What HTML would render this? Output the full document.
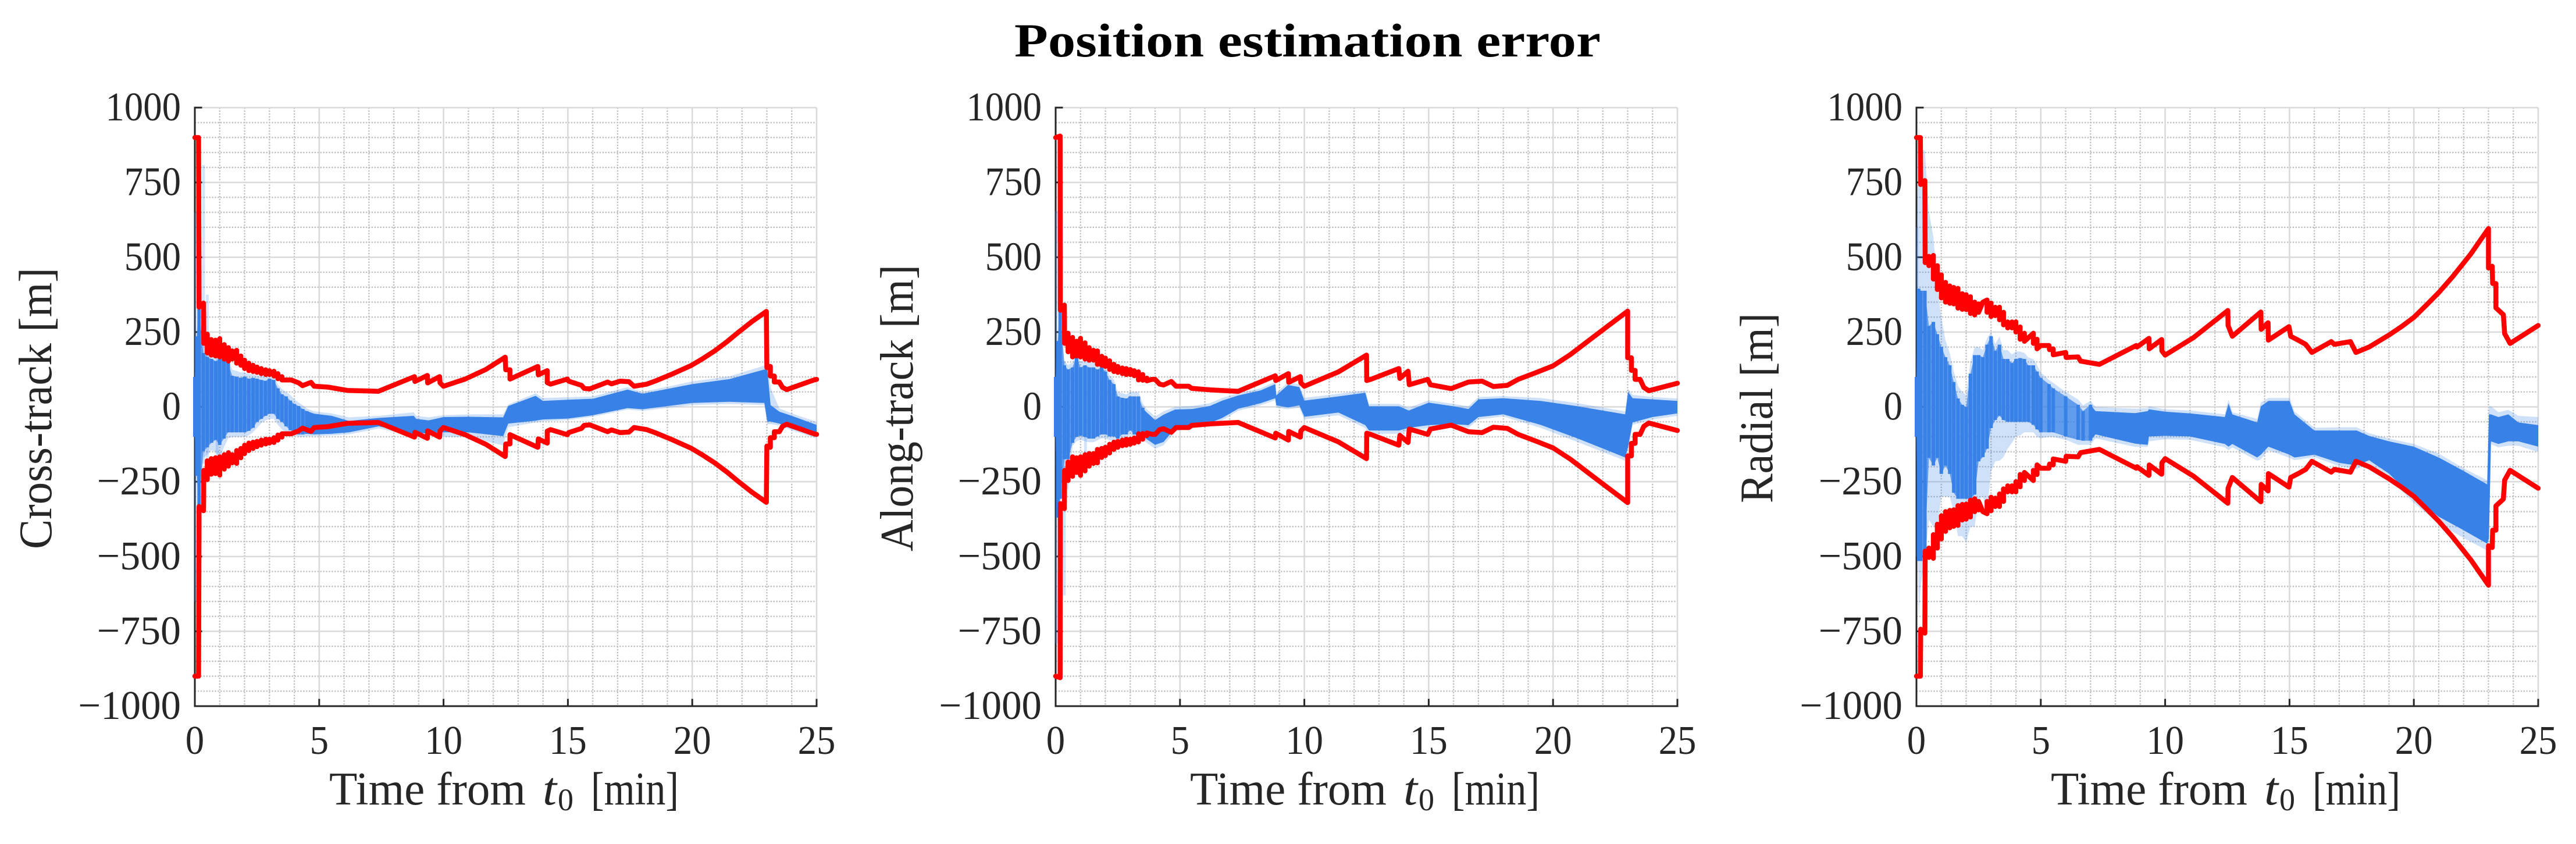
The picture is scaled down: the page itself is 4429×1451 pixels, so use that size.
<!DOCTYPE html>
<html lang="en">
<head>
<meta charset="utf-8">
<title>Position estimation error</title>
<style>
html,body{margin:0;padding:0;background:#fff;}
svg{display:block;}
text{font-family:"Liberation Serif",serif;fill:#262626;}
</style>
</head>
<body>
<svg id="chart" xmlns="http://www.w3.org/2000/svg" width="4429" height="1451" viewBox="0 0 4429 1451">
<rect x="0" y="0" width="4429" height="1451" fill="#ffffff"/>
<text x="1744" y="97" font-size="82" font-weight="bold" style="fill:#000" textLength="1008" lengthAdjust="spacingAndGlyphs">Position estimation error</text>
</svg>
<script>
// ---- shared tick values ----
const xTickLabels = [0,5,10,15,20,25];
const yTickLabels = [1000,750,500,250,0,-250,-500,-750,-1000];

// ---- cross-track: red sigma bound ----
const crossSigmaTime = [
0,.15,.17,.35,.36,.5,.5,.66,.66,.83,
.83,1,1,1.18,1.18,1.35,1.35,1.5,1.5,1.68,
1.68,1.85,1.85,2,2,2.17,2.17,2.34,2.34,2.5,
2.5,2.67,2.67,2.85,2.85,3,3,3.18,3.18,3.34,
3.34,3.5,3.5,3.87,4.18,4.33,4.67,4.8,5.35,6.13,
7.38,8.83,8.85,9.35,9.36,9.84,9.86,10,10.87,11.7,
12.48,12.5,12.67,12.67,13.79,13.81,14.17,14.17,14.3,14.98,
15.03,15.55,15.65,15.88,16.6,16.75,17.1,17.46,17.66,18.17,
18.5,19.2,19.95,20.4,20.9,21.4,21.85,22.4,22.98,23,
23.14,23.14,23.3,23.3,23.5,23.63,23.8,24.9,25];
const crossSigmaValue = [
900,900,333,347,212,243,180,225,173,223,
170,228,167,208,160,198,153,187,160,189,
146,170,139,156,128,146,121,139,118,133,
115,128,111,124,108,121,108,119,103,111,
94,101,90,90,80,71,82,69,66,55,
52,101,85,105,80,101,80,69,93,125,
166,124,124,93,135,107,121,81,76,93,
86,72,62,60,83,77,86,84,69,76,
86,110,138,160,187,218,249,285,319,131,
135,103,103,83,83,65,58,90,92];

// ---- cross-track: monte-carlo run envelopes ----
const crossBandTime = [
0,.08,.17,.34,.5,.67,.84,1,1.17,1.34,
1.5,1.67,1.84,2,2.17,2.34,2.5,2.67,2.84,3,
3.17,3.34,3.5,3.67,3.84,4,4.17,4.34,4.5,4.8,
5.5,6.2,7.4,8.8,8.9,9.4,10,11,12.4,12.6,
13.7,14,15,16,17.4,18,20,21.5,22.9,23.02,
23.15,23.5,24,25];
const crossCoreHigh = [
100,236,326,180,167,160,153,160,160,146,
104,101,97,101,94,97,94,90,87,94,
90,62,42,35,21,10,3,-7,-14,-23,
-30,-47,-37,-30,-40,-45,-34,-33,-35,3,
37,20,24,27,58,44,76,93,125,124,
6,-16,-30,-60];
const crossCoreLow = [
-100,-230,-328,-148,-135,-120,-110,-127,-106,-85,
-85,-85,-85,-85,-80,-70,-50,-40,-30,-23,
-23,-40,-50,-65,-78,-85,-92,-92,-90,-92,
-90,-85,-65,-92,-85,-90,-85,-85,-98,-56,
-46,-42,-39,-28,-4,-8,13,17,13,-49,
-49,-56,-73,-100];
const crossPaleHigh = [
130,260,340,200,190,175,170,175,175,165,
125,120,115,115,110,110,105,105,100,105,
105,75,60,50,40,25,15,5,-5,-15,
-22,-35,-30,-18,-30,-35,-28,-25,-25,8,
45,30,32,35,66,50,85,102,138,135,
65,-5,-22,-50];
const crossPaleLow = [
-130,-250,-340,-170,-160,-145,-150,-175,-135,-105,
-100,-100,-100,-100,-95,-85,-70,-55,-45,-40,
-40,-60,-75,-85,-90,-95,-100,-100,-98,-98,
-95,-92,-72,-98,-92,-98,-100,-100,-129,-68,
-52,-48,-44,-33,-9,-13,6,10,6,-58,
-58,-62,-78,-105];
const crossSpikeTime = [.02,.35,.5,.9];
const crossSpikeHigh = [650,808,375,170];
const crossSpikeLow = [-650,-190,-170,-175];

// ---- along-track: red sigma bound ----
const alongSigmaTime = [
0,.18,.19,.35,.36,.5,.5,.68,.68,.84,
.84,1,1,1.18,1.18,1.35,1.35,1.52,1.52,1.68,
1.68,1.85,1.85,2,2,2.17,2.17,2.34,2.34,2.5,
2.5,2.68,2.68,2.84,2.84,3,3,3.16,3.16,3.33,
3.33,3.5,3.5,3.67,3.67,3.87,4,4.18,4.34,4.65,
4.84,5.35,5.47,6.2,7.34,8.83,8.85,9.36,9.37,9.84,
9.86,10,11.37,12.5,12.51,12.67,13.8,13.84,14.17,14.22,
14.96,15.07,15.9,16.6,17.15,17.6,18.16,18.6,19.3,20,
20.7,21.3,22.2,23,23,23.15,23.15,23.3,23.3,23.5,
23.65,23.85,25];
const alongSigmaValue = [
900,905,323,340,212,246,184,232,167,219,
170,229,167,214,160,198,156,189,156,187,
142,169,139,163,135,154,125,142,118,135,
115,130,111,128,108,125,108,121,104,117,
90,108,89,96,87,92,92,76,73,85,
69,69,62,57,52,104,88,111,82,101,
80,69,117,173,88,92,128,95,119,74,
92,74,61,83,86,68,72,92,114,137,
175,213,270,320,164,164,122,122,92,92,
65,54,79];

// ---- along-track: monte-carlo run envelopes ----
const alongBandTime = [
0,.09,.18,.35,.5,.68,.84,1,1.18,1.35,
1.52,1.68,1.85,2,2.17,2.34,2.5,2.68,2.84,3,
3.16,3.33,3.5,3.63,4,4.34,4.8,5.5,6.2,6.7,
7.34,8.24,8.83,8.87,9.34,9.8,10,11.37,12.45,12.6,
13.8,14.2,15,16,16.6,17,18,19.5,21,22.9,
23.02,23.2,24,25];
const alongCoreHigh = [
100,220,323,139,125,132,170,132,139,132,
132,125,132,118,90,76,35,30,28,35,
35,35,-3,-16,-44,-26,-9,-7,3,21,
38,55,76,38,73,66,21,35,47,2,
2,-12,14,2,-7,25,29,20,2,-25,
50,29,25,20];
const alongCoreLow = [
-100,-370,-307,-175,-175,-120,-100,-96,-100,-106,
-106,-99,-92,-92,-99,-99,-106,-92,-92,-78,
-92,-92,-92,-106,-127,-117,-71,-60,-54,-37,
-6,12,29,5,-2,5,-33,-19,-61,-79,
-79,-70,-61,-58,-61,-34,-25,-60,-106,-169,
-133,-52,-34,-22];
const alongPaleHigh = [
130,250,340,152,140,148,185,150,155,150,
148,142,148,135,105,92,50,45,42,50,
50,50,12,-5,-32,-15,0,3,12,30,
46,62,84,46,82,75,30,44,55,10,
10,-3,22,10,2,33,36,30,12,-15,
60,40,33,28];
const alongPaleLow = [
-130,-400,-320,-250,-280,-130,-115,-110,-115,-118,
-118,-112,-105,-105,-112,-112,-118,-105,-105,-92,
-105,-105,-105,-118,-140,-128,-82,-70,-62,-45,
-13,5,22,-3,-8,-3,-42,-28,-71,-90,
-90,-80,-70,-66,-70,-42,-32,-70,-118,-180,
-142,-60,-42,-30];
const alongSpikeTime = [.02,.35,1.2];
const alongSpikeHigh = [655,152,120];
const alongSpikeLow = [-790,-630,-155];

// ---- radial: red sigma bound ----
const radialSigmaTime = [
0,.16,.17,.34,.35,.5,.5,.68,.68,.84,
.84,1,1,1.17,1.17,1.34,1.34,1.5,1.5,1.67,
1.67,1.84,1.84,2,2,2.17,2.17,2.34,2.34,2.5,
2.5,2.67,2.84,2.84,3,3,3.17,3.17,3.34,3.34,
3.5,3.5,3.67,3.67,3.84,3.84,4,4,4.17,4.17,
4.34,4.34,4.7,4.7,4.85,4.85,5,5.33,5.35,5.5,
5.5,6,6.02,6.5,6.6,7.36,8.84,8.87,9.35,9.36,
9.86,9.87,10,11.15,12.52,12.53,12.7,13.85,13.86,14.14,
14.15,14.98,15.05,15.35,15.65,15.9,16.68,16.8,17.45,17.67,
18.2,19,19.5,20,20.5,21,21.55,22.3,23,23,
23.15,23.17,23.3,23.3,23.6,23.65,23.87,25];
const radialSigmaValue = [
900,900,743,756,482,503,472,506,427,472,
392,441,364,416,350,404,346,399,344,396,
330,378,326,375,325,368,312,350,307,344,
316,350,357,316,347,302,333,305,333,291,
316,274,284,264,284,264,284,250,267,226,
246,219,246,212,226,194,205,205,191,194,
174,182,165,167,153,142,205,200,229,194,
225,187,173,232,322,272,236,317,259,281,
223,268,236,223,209,182,218,209,218,182,
200,240,268,299,340,382,434,512,596,464,
470,412,412,331,308,245,212,272];

// ---- radial: monte-carlo run envelopes ----
const radialBandTime = [
0,.09,.17,.34,.5,.68,.84,1,1.17,1.34,
1.5,1.67,1.84,2,2.17,2.34,2.5,2.67,2.84,3,
3.17,3.34,3.5,3.67,3.84,4,4.17,4.34,4.5,4.7,
4.85,5,5.33,5.5,6,6.5,6.7,7,7.2,8.8,
9.3,9.35,10,11,12.4,12.55,12.7,13.7,13.85,14.15,
15,15.2,16,17,17.7,18.2,19,20,21,22,
22.95,23.02,23.1,23.4,23.8,24.2,25];
const radialCoreHigh = [
100,395,388,388,270,284,243,201,166,139,
83,28,7,0,111,173,173,166,208,236,
187,208,160,160,146,160,163,160,139,139,
118,97,76,62,35,7,-14,7,-14,-21,
-14,-8,-16,-22,-34,11,-25,-52,2,20,
20,-25,-79,-79,-79,-97,-115,-133,-169,-214,
-259,-25,-25,-34,-25,-52,-61];
const radialCoreLow = [
-100,-515,-515,-480,-170,-196,-170,-224,-196,-224,
-287,-307,-307,-307,-307,-293,-182,-168,-140,-71,
-44,-30,-44,-50,-50,-50,-50,-50,-50,-60,
-75,-85,-85,-85,-99,-110,-113,-113,-92,-123,
-127,-99,-97,-99,-124,-133,-124,-169,-160,-133,
-160,-169,-160,-187,-196,-178,-223,-304,-367,-412,
-457,-439,-115,-124,-115,-115,-133];
const radialPaleHigh = [
500,940,860,857,652,569,400,300,222,180,
120,70,50,40,150,200,200,190,230,250,
210,235,190,190,175,185,185,180,165,160,
140,115,90,80,50,25,5,20,0,-6,
-4,2,-8,-12,-25,25,-18,-40,15,30,
30,-15,-70,-68,-68,-88,-106,-124,-156,-205,
-245,2,2,-18,-10,-30,-34];
const radialPaleLow = [
-130,-706,-600,-500,-377,-400,-400,-300,-300,-300,
-350,-432,-432,-453,-400,-400,-310,-300,-349,-217,
-182,-180,-168,-140,-120,-99,-95,-85,-85,-85,
-100,-105,-100,-100,-110,-127,-127,-127,-105,-134,
-134,-115,-108,-110,-135,-145,-135,-180,-175,-145,
-170,-178,-168,-198,-208,-188,-240,-320,-390,-438,
-480,-455,-125,-135,-130,-130,-151];
const radialSpikeTime = [.02];
const radialSpikeHigh = [600];
const radialSpikeLow = [-500];

// ---- layout ----
const plotWidth = 1069, plotTop = 185, plotBottom = 1214;
const xMin = 0, xMax = 25, yMin = -1000, yMax = 1000;
const xMinorStep = 1, yMinorStep = 50;
const BLUE = '#3781e7', RED = '#ff0000', INK = '#262626';
const DIGIT_W = 32.4, MINUS_W = 47;

const panels = [
 {key:'cross-track', left:335, label:'Cross-track [m]', labelX:88, labelCenter:702, labelLen:484, stripeEnd:4.5,
  sigmaT:crossSigmaTime, sigmaV:crossSigmaValue, bandT:crossBandTime, coreHi:crossCoreHigh, coreLo:crossCoreLow,
  paleHi:crossPaleHigh, paleLo:crossPaleLow, spikeT:crossSpikeTime, spikeHi:crossSpikeHigh, spikeLo:crossSpikeLow},
 {key:'along-track', left:1815, label:'Along-track [m]', labelX:1569, labelCenter:701.5, labelLen:493, stripeEnd:3.5,
  sigmaT:alongSigmaTime, sigmaV:alongSigmaValue, bandT:alongBandTime, coreHi:alongCoreHigh, coreLo:alongCoreLow,
  paleHi:alongPaleHigh, paleLo:alongPaleLow, spikeT:alongSpikeTime, spikeHi:alongSpikeHigh, spikeLo:alongSpikeLow},
 {key:'radial', left:3295, label:'Radial [m]', labelX:3047, labelCenter:701.5, labelLen:327, stripeEnd:7,
  sigmaT:radialSigmaTime, sigmaV:radialSigmaValue, bandT:radialBandTime, coreHi:radialCoreHigh, coreLo:radialCoreLow,
  paleHi:radialPaleHigh, paleLo:radialPaleLow, spikeT:radialSpikeTime, spikeHi:radialSpikeHigh, spikeLo:radialSpikeLow}
];

const svgNS = 'http://www.w3.org/2000/svg';
const root = document.getElementById('chart');
function make(tag, parent, attrs){
  const el = document.createElementNS(svgNS, tag);
  for (const k in attrs) el.setAttribute(k, attrs[k]);
  parent.appendChild(el);
  return el;
}
function yScale(v){ return plotBottom - (v - yMin) / (yMax - yMin) * (plotBottom - plotTop); }
function makeXScale(left){ return t => left + (t - xMin) / (xMax - xMin) * plotWidth; }
function fmt(n){ return n.toFixed(1); }

panels.forEach(p => {
  const xScale = makeXScale(p.left);
  const right = xScale(xMax);
  const g = make('g', root, {});
  
  

  // minor grid
  const minor = make('g', g, {stroke:'#bcbcbc','stroke-width':2.3,'stroke-dasharray':'2.3 2.6',fill:'none'});
  
  
  for (let t = xMin + xMinorStep; t < xMax; t += xMinorStep) {
    if (t % 5 === 0) continue;
    make('line', minor, {x1:xScale(t), x2:xScale(t), y1:plotTop, y2:plotBottom});
  }
  for (let v = yMin + yMinorStep; v < yMax; v += yMinorStep) {
    if (v % 250 === 0) continue;
    make('line', minor, {x1:p.left, x2:right, y1:yScale(v), y2:yScale(v)});
  }

  // major grid
  const major = make('g', g, {stroke:'#dadada','stroke-width':2.6,fill:'none'});
  
  
  xTickLabels.forEach(t => make('line', major, {x1:xScale(t), x2:xScale(t), y1:plotTop, y2:plotBottom}));
  yTickLabels.forEach(v => make('line', major, {x1:p.left, x2:right, y1:yScale(v), y2:yScale(v)}));

  // axes and ticks
  const axisG = make('g', g, {stroke:INK,'stroke-width':3,fill:'none','stroke-linecap':'square'});
  
  
  make('line', axisG, {x1:p.left, x2:p.left, y1:plotTop, y2:plotBottom});
  make('line', axisG, {x1:p.left, x2:right, y1:plotBottom, y2:plotBottom});
  xTickLabels.forEach(t => make('line', axisG, {x1:xScale(t), x2:xScale(t), y1:plotBottom, y2:plotBottom - 11}));
  yTickLabels.forEach(v => make('line', axisG, {x1:p.left, x2:p.left + 11, y1:yScale(v), y2:yScale(v)}));

  // tick labels
  xTickLabels.forEach(t => {
    const str = String(t);
    const tx = make('text', g, {x:xScale(t), y:1296, 'font-size':70, 'text-anchor':'middle', textLength:str.length * DIGIT_W, lengthAdjust:'spacingAndGlyphs'});
    tx.textContent = str;
    
    
  });
  yTickLabels.forEach(v => {
    const str = String(Math.abs(v));
    const w = str.length * DIGIT_W + (v < 0 ? MINUS_W : 0);
    const tx = make('text', g, {x:p.left - 24, y:yScale(v) + 22, 'font-size':70, 'text-anchor':'end', textLength:w, lengthAdjust:'spacingAndGlyphs'});
    tx.textContent = (v < 0 ? '\u2212' : '') + str;
    
    
  });

  // axis titles
  const yt = make('text', g, {x:p.labelX, y:p.labelCenter + p.labelLen / 2, 'font-size':80,
    transform:'rotate(-90 ' + p.labelX + ' ' + (p.labelCenter + p.labelLen / 2) + ')',
    textLength:p.labelLen, lengthAdjust:'spacingAndGlyphs'});
  yt.textContent = p.label;
  
  

  const xt = make('g', g, {});
  
  
  const xt1 = make('text', xt, {x:p.left + 231, y:1383, 'font-size':80, textLength:338, lengthAdjust:'spacingAndGlyphs'});
  xt1.textContent = 'Time from';
  const xt2 = make('text', xt, {x:p.left + 598, y:1383, 'font-size':80, 'font-style':'italic', textLength:24, lengthAdjust:'spacingAndGlyphs'});
  xt2.textContent = 't';
  const xt3 = make('text', xt, {x:p.left + 624, y:1393, 'font-size':54});
  xt3.textContent = '0';
  const xt4 = make('text', xt, {x:p.left + 681, y:1383, 'font-size':80, textLength:151, lengthAdjust:'spacingAndGlyphs'});
  xt4.textContent = '[min]';

  // run envelopes
  const runs = make('g', g, {});
  
  

  function bandPath(hi, lo, test){
    const idx = p.bandT.map((t, i) => i).filter(i => test(p.bandT[i]));
    const top = idx.map(i => fmt(xScale(p.bandT[i])) + ',' + fmt(yScale(hi[i])));
    const bot = idx.slice().reverse().map(i => fmt(xScale(p.bandT[i])) + ',' + fmt(yScale(lo[i])));
    return top.concat(bot).join(' ');
  }
  const pale = make('polygon', runs, {points:bandPath(p.paleHi, p.paleLo, () => true), fill:BLUE, 'fill-opacity':.24});
  
  

  p.spikeT.forEach((t, i) => {
    const s = make('line', runs, {x1:xScale(t), x2:xScale(t), y1:yScale(p.spikeHi[i]), y2:yScale(p.spikeLo[i]), stroke:BLUE, 'stroke-opacity':.22, 'stroke-width':5});
    
    
  });

  const early = make('polygon', runs, {points:bandPath(p.coreHi, p.coreLo, t => t <= p.stripeEnd), fill:BLUE, 'fill-opacity':.72});
  
  

  p.bandT.forEach((t, i) => {
    if (t > p.stripeEnd) return;
    const s = make('line', runs, {x1:xScale(t), x2:xScale(t), y1:yScale(p.coreHi[i]), y2:yScale(p.coreLo[i]), stroke:BLUE, 'stroke-width':6});
    
    
  });

  const late = make('polygon', runs, {points:bandPath(p.coreHi, p.coreLo, t => t >= p.stripeEnd), fill:BLUE});
  
  

  // red bounds
  const upperPts = p.sigmaT.map((t, i) => fmt(xScale(t)) + ',' + fmt(yScale(p.sigmaV[i]))).join(' ');
  const lowerPts = p.sigmaT.map((t, i) => fmt(xScale(t)) + ',' + fmt(yScale(-p.sigmaV[i]))).join(' ');
  const up = make('polyline', g, {points:upperPts, fill:'none', stroke:RED, 'stroke-width':8.5, 'stroke-linejoin':'round', 'stroke-linecap':'round'});
  
  
  const low = make('polyline', g, {points:lowerPts, fill:'none', stroke:RED, 'stroke-width':8.5, 'stroke-linejoin':'round', 'stroke-linecap':'round'});
  
  
});
</script>
</body>
</html>
